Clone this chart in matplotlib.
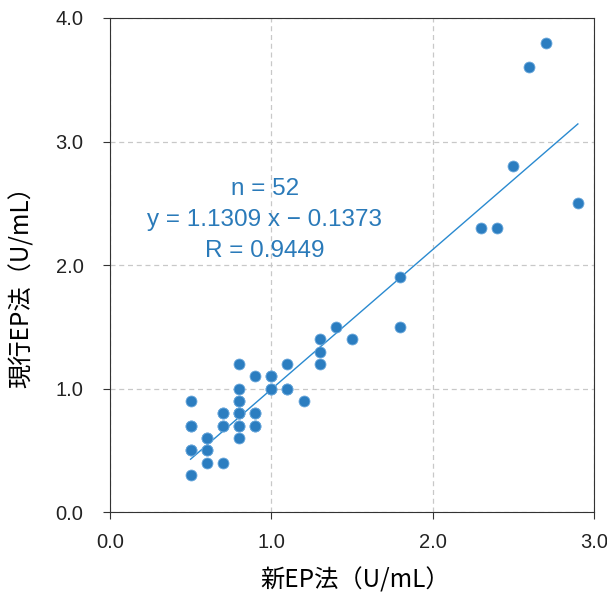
import matplotlib.pyplot as plt
import numpy as np

plt.rcParams['font.family'] = ['Noto Sans CJK JP', 'DejaVu Sans']

# new EP method vs current EP method (U/mL), n = 52 (overlapping points repeated)
new_ep = [0.5, 0.5, 0.5, 0.5, 0.6, 0.6, 0.6, 0.7, 0.7, 0.7,
          0.8, 0.8, 0.8, 0.8, 0.8, 0.8, 0.9, 0.9, 0.9, 1.0,
          1.0, 1.1, 1.1, 1.2, 1.3, 1.3, 1.3, 1.4, 1.5, 1.8,
          1.8, 2.3, 2.4, 2.5, 2.6, 2.7, 2.9,
          0.5, 0.6, 0.7, 0.8, 0.8, 0.9, 1.0, 0.7, 0.8, 0.6,
          1.1, 0.9, 1.0, 0.8, 0.5]
cur_ep = [0.3, 0.5, 0.7, 0.9, 0.4, 0.5, 0.6, 0.4, 0.7, 0.8,
          0.6, 0.7, 0.8, 0.9, 1.0, 1.2, 0.7, 0.8, 1.1, 1.0,
          1.1, 1.0, 1.2, 0.9, 1.2, 1.3, 1.4, 1.5, 1.4, 1.5,
          1.9, 2.3, 2.3, 2.8, 3.6, 3.8, 2.5,
          0.5, 0.5, 0.7, 0.8, 0.7, 0.8, 1.0, 0.8, 0.9, 0.6,
          1.0, 0.7, 1.1, 0.8, 0.7]

slope, intercept, r = 1.1309, -0.1373, 0.9449
blue = '#2a7ab9'
sans = ['Liberation Sans']

fig = plt.figure(figsize=(6.07, 5.92), dpi=100)
ax = fig.add_axes([0.181, 0.135, 0.7976, 0.8346])

ax.scatter(new_ep, cur_ep, s=62, color='#2b7dc0', edgecolors='#6aa8dc',
           linewidths=0.6, zorder=3)

fx = np.array([min(new_ep), max(new_ep)])
ax.plot(fx, slope * fx + intercept, color='#2a8ad0', lw=1.0, zorder=2)

ax.text(0.96, 2.364, 'n = 52\ny = 1.1309 x − 0.1373\nR = 0.9449',
        ha='center', va='center', color=blue, fontsize=17.5,
        family=sans, linespacing=1.55)

ax.set_xlim(0, 3.0)
ax.set_ylim(0, 4.0)
ax.set_xticks([0, 1, 2, 3])
ax.set_yticks([0, 1, 2, 3, 4])
ax.set_xticklabels(['0.0', '1.0', '2.0', '3.0'], family=sans)
ax.set_yticklabels(['0.0', '1.0', '2.0', '3.0', '4.0'], family=sans)
ax.tick_params(labelsize=14.5, length=5, color='#333333', labelcolor='#222222')
ax.tick_params(axis='x', pad=10)
ax.tick_params(axis='y', pad=14)
ax.grid(True, ls=(0, (4, 3)), color='#c8c8c8', lw=0.9)
ax.set_axisbelow(True)
for sp in ax.spines.values():
    sp.set_color('#333333')

fig.text(0.585, 0.02, '新EP法（U/mL）', fontsize=17.5, ha='center', va='center')
fig.text(0.036, 0.525, '現行EP法（U/mL）', fontsize=17.5, ha='center', va='center',
         rotation=90)

fig.savefig('out.png', dpi=100)
